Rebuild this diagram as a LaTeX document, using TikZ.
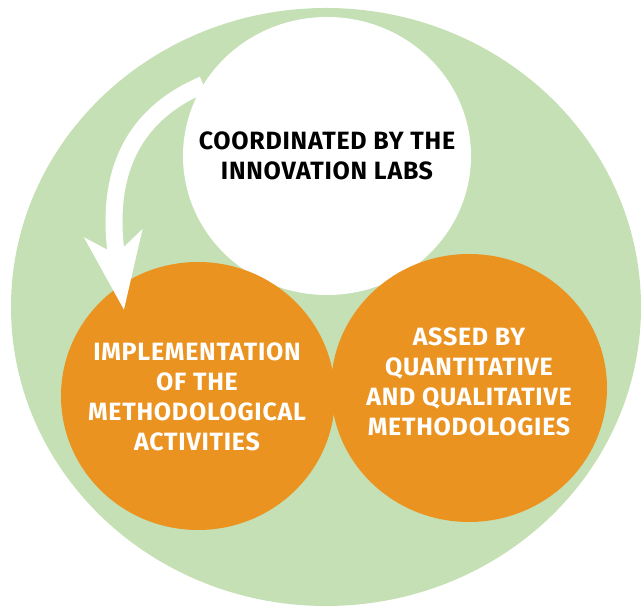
\documentclass[tikz,border=0pt]{standalone}
\usepackage{fontspec}
\setmainfont{Fira Sans}[LetterSpace=3]
\usetikzlibrary{shapes.geometric,arrows.meta}
\definecolor{labgreen}{HTML}{C5E0B4}
\definecolor{laborange}{HTML}{EB9321}
\tikzset{
  blob/.style={ellipse,inner sep=0pt,draw=none},
  blobtext/.style={align=center,font=\bfseries\fontsize{25}{30}\selectfont},
  bendarrow/.style={white,line width=17pt,-{Stealth[length=76pt,width=57pt,inset=20pt]}}
}
\begin{document}
\begin{tikzpicture}[x=1pt,y=1pt]
  \useasboundingbox (0,0) rectangle (641,609);
  \fill[labgreen] (326,302) ellipse [x radius=315,y radius=299];
  \node[blob,fill=white,minimum width=288pt,minimum height=278pt] (labs) at (327,453) {};
  \node[blob,fill=laborange,minimum width=276pt,minimum height=268pt] (assess) at (469,221) {};
  \node[blob,fill=laborange,minimum width=274pt,minimum height=268pt] (impl) at (198,213) {};
  \node[blobtext] (labstext) at (327,453) {COORDINATED BY THE\\INNOVATION LABS};
  \node[blobtext,white] (impltext) at (197,212) {IMPLEMENTATION\\OF THE\\METHODOLOGICAL\\ACTIVITIES};
  \node[blobtext,white] (assesstext) at (469,227) {ASSED BY\\QUANTITATIVE\\AND QUALITATIVE\\METHODOLOGIES};
  \coordinate (tip) at (124,299);
  \draw[bendarrow] (labs.150) to[out=203,in=98,looseness=1.1] (tip);
\end{tikzpicture}
\end{document}
